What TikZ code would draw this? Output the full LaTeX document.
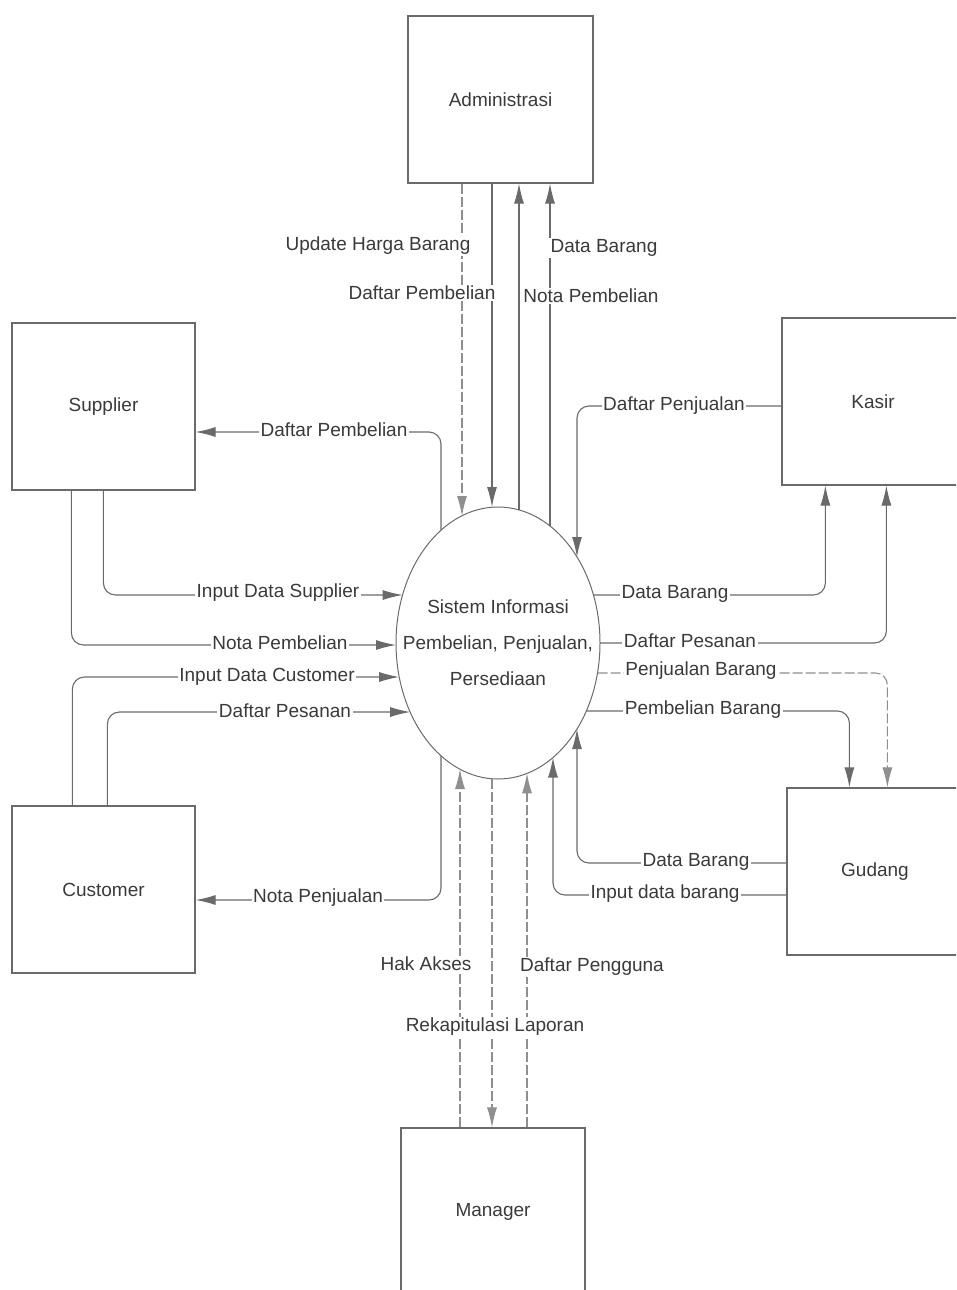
\documentclass[tikz,border=0pt]{standalone}
\usepackage{fontspec}
\setmainfont{Liberation Sans}
\usetikzlibrary{arrows.meta,shapes.geometric,calc}
\definecolor{ln}{HTML}{6A6A6A}
\definecolor{tx}{HTML}{3A3A3A}
\begin{document}
\begin{tikzpicture}[x=1pt,y=-1pt,
  ent/.style={draw=ln, line width=1.2pt, minimum width=183pt, minimum height=167pt, inner sep=0pt, font=\fontsize{19}{22}\selectfont, text=tx},
  proc/.style={draw=ln, line width=1pt, ellipse, minimum width=204pt, minimum height=272pt, inner sep=0pt},
  proctext/.style={align=center, inner sep=0pt, font=\fontsize{19}{36}\selectfont, text=tx},
  flow/.style={draw=ln, line width=1.1pt, rounded corners=12pt, -{Latex[length=20pt,width=10pt]}},
  faint/.style={draw=ln!75, dash pattern=on 10pt off 3pt},
  lbl/.style={fill=white, inner sep=1.5pt, font=\fontsize{19}{22}\selectfont, text=tx}
]
\useasboundingbox (0,0) rectangle (956,1290);
\clip (0,0) rectangle (956,1290);

% entities
\node[ent, minimum width=185pt] (A) at (500.5,99.5) {Administrasi};
\node[ent] (S) at (103.5,406.5) {Supplier};
\node[ent, minimum width=182pt] (K) at (873,401.5) {Kasir};
\node[ent] (C) at (103.5,889.5) {Customer};
\node[ent, minimum width=176pt] (G) at (875,871.5) {Gudang};
\node[ent, minimum width=184pt] (M) at (493,1211.5) {Manager};

% process
\node[proc] (P) at (498,643) {};
\node[proctext] (PT) at (P.center) {Sistem Informasi\\Pembelian, Penjualan,\\Persediaan};

% points on the process border
\coordinate (t1) at ($(P.center)+(-36,-127)$);
\coordinate (t2) at ($(P.center)+(-6,-136)$);
\coordinate (t3) at ($(P.center)+(21,-133)$);
\coordinate (t4) at ($(P.center)+(52,-117)$);
\coordinate (t5) at ($(P.center)+(-57,-113)$);
\coordinate (t6) at ($(P.center)+(79,-86)$);
\coordinate (r1) at ($(P.center)+(95.4,-48)$);
\coordinate (r2) at ($(P.center)+(102,0)$);
\coordinate (r3) at ($(P.center)+(99.5,30)$);
\coordinate (r4) at ($(P.center)+(88.3,68)$);
\coordinate (b1) at ($(P.center)+(79,86)$);
\coordinate (b2) at ($(P.center)+(55,114.5)$);
\coordinate (b3) at ($(P.center)+(-57,113)$);
\coordinate (b4) at ($(P.center)+(-38,126)$);
\coordinate (b5) at ($(P.center)+(-6,136)$);
\coordinate (b6) at ($(P.center)+(29,130.4)$);
\coordinate (l1) at ($(P.center)+(-95.4,-48)$);
\coordinate (l2) at ($(P.center)+(-102,2)$);
\coordinate (l3) at ($(P.center)+(-98.8,34)$);
\coordinate (l4) at ($(P.center)+(-87.9,69)$);

% Administrasi
\draw[flow,faint] (t1 |- A.south) -- (t1);
\draw[flow] (t2 |- A.south) -- (t2);
\draw[flow] (t3) -- (t3 |- A.south);
\draw[flow] (t4) -- (t4 |- A.south);

% Supplier
\draw[flow] (t5) |- ($(S.east)+(0,25.5)$);
\draw[flow] ($(S.south west)+(92,0)$) |- (l1);
\draw[flow] ($(S.south west)+(60,0)$) |- (l2);

% Customer
\draw[flow] ($(C.north west)+(61,0)$) |- (l3);
\draw[flow] ($(C.north west)+(96,0)$) |- (l4);
\draw[flow] (b3) |- ($(C.east)+(0,10.5)$);

% Kasir
\draw[flow] ($(K.west)+(0,4.5)$) -| (t6);
\draw[flow] (r1) -| ($(K.south west)+(44,0)$);
\draw[flow] (r2) -| ($(K.south west)+(105,0)$);

% Gudang
\draw[flow,faint] (r3) -| ($(G.north west)+(101,0)$);
\draw[flow] (r4) -| ($(G.north west)+(63,0)$);
\draw[flow] ($(G.west)+(0,-8.5)$) -| (b1);
\draw[flow] ($(G.west)+(0,23.5)$) -| (b2);

% Manager
\draw[flow,faint] (b4 |- M.north) -- (b4);
\draw[flow,faint] (b5) -- (b5 |- M.north);
\draw[flow,faint] (b6 |- M.north) -- (b6);

% labels
\node[lbl] (L1) at (378,246) {Update Harga Barang};
\node[lbl] (L2) at (422,293) {Daftar Pembelian};
\node[lbl] (L3) at (604,248) {Data Barang};
\node[lbl] (L4) at (591,296) {Nota Pembelian};
\node[lbl] (L5) at (334,430) {Daftar Pembelian};
\node[lbl] (L6) at (674,406) {Daftar Penjualan};
\node[lbl] (L7) at (278,593) {Input Data Supplier};
\node[lbl] (L8) at (280,643) {Nota Pembelian};
\node[lbl] (L9) at (267,677) {Input Data Customer};
\node[lbl] (L10) at (285,711) {Daftar Pesanan};
\node[lbl] (L11) at (675,594) {Data Barang};
\node[lbl] (L12) at (690,641) {Daftar Pesanan};
\node[lbl] (L13) at (701,671) {Penjualan Barang};
\node[lbl] (L14) at (703,710) {Pembelian Barang};
\node[lbl] (L15) at (696,862) {Data Barang};
\node[lbl] (L16) at (665,894) {Input data barang};
\node[lbl] (L17) at (318,898) {Nota Penjualan};
\node[lbl] (L18) at (426,964) {Hak Akses};
\node[lbl] (L19) at (592,967) {Daftar Pengguna};
\node[lbl] (L20) at (495,1027) {Rekapitulasi Laporan};
\end{tikzpicture}
\end{document}
